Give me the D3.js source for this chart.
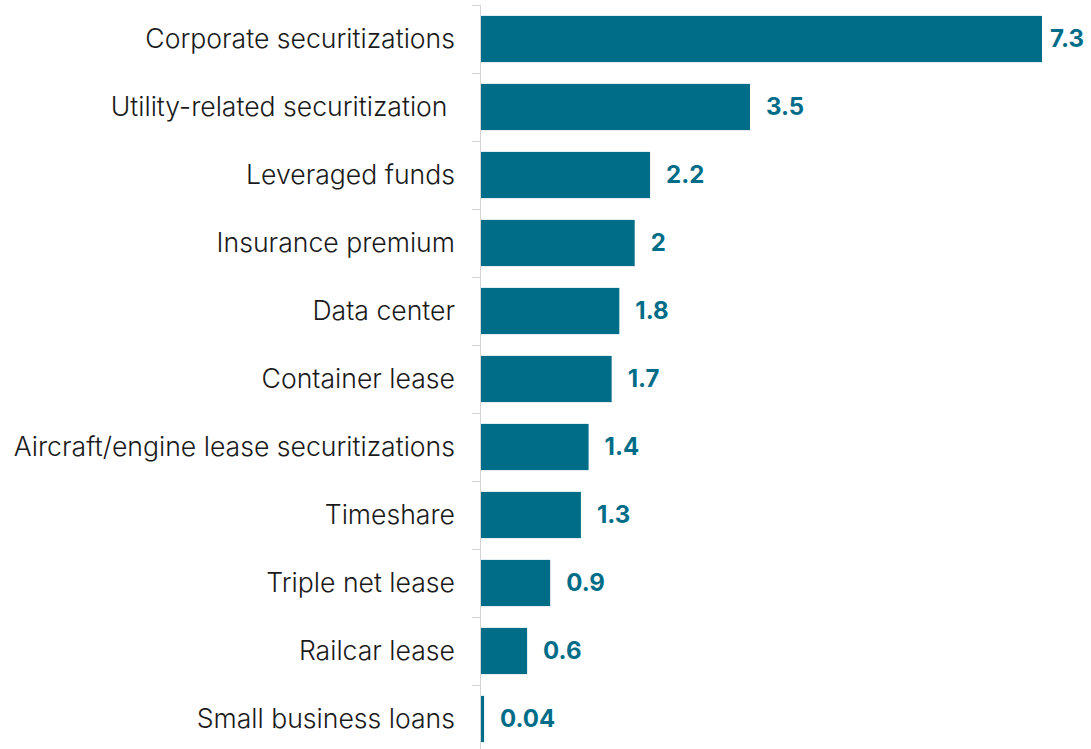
<!DOCTYPE html>
<html>
<head>
<meta charset="utf-8">
<script src="https://cdn.jsdelivr.net/npm/d3@7"></script>
<style>
  html, body { margin: 0; padding: 0; background: #fff; }
  svg { display: block; }
</style>
</head>
<body>
<svg id="chart" width="1091" height="749"></svg>
<script>
// Issuance by asset type
const categories = [
  "Corporate securitizations",
  "Utility-related securitization ",
  "Leveraged funds",
  "Insurance premium",
  "Data center",
  "Container lease",
  "Aircraft/engine lease securitizations",
  "Timeshare",
  "Triple net lease",
  "Railcar lease",
  "Small business loans"
];
const values = [7.3, 3.5, 2.2, 2, 1.8, 1.7, 1.4, 1.3, 0.9, 0.6, 0.04];
const valueLabels = ["7.3", "3.5", "2.2", "2", "1.8", "1.7", "1.4", "1.3", "0.9", "0.6", "0.04"];

const W = 1091, H = 749;
const margin = { top: 5, left: 481, right: 49 };
const barColor = "#006d88";
const labelFont = "Inter, 'Open Sans', sans-serif";

const svg = d3.select("#chart");

const x = d3.scaleLinear()
  .domain([0, 7.3])
  .range([margin.left, W - margin.right]);

const y = d3.scaleBand()
  .domain(categories)
  .range([margin.top, margin.top + 68 * categories.length])
  .paddingInner(0.32)
  .paddingOuter(0.16);

const step = y.step();
const y0 = margin.top;

// axis spine and category separators
const axis = svg.append("g").attr("stroke", "#d4d4d4").attr("stroke-width", 1);
axis.append("line")
  .attr("x1", x(0) - 0.5).attr("x2", x(0) - 0.5)
  .attr("y1", y0).attr("y2", H);
axis.selectAll("line.sep")
  .data(d3.range(categories.length + 1))
  .join("line")
  .attr("class", "sep")
  .attr("x1", x(0) - 9).attr("x2", x(0))
  .attr("y1", i => y0 + i * step + 0.5)
  .attr("y2", i => y0 + i * step + 0.5);

// bars
svg.append("g").selectAll("rect")
  .data(values)
  .join("rect")
  .attr("x", x(0))
  .attr("y", (d, i) => y(categories[i]))
  .attr("width", d => x(d) - x(0))
  .attr("height", y.bandwidth())
  .attr("fill", barColor);

// category labels
svg.append("g").selectAll("text")
  .data(categories)
  .join("text")
  .attr("x", x(0) - 26)
  .attr("y", d => y(d) + y.bandwidth() / 2)
  .attr("dy", "0.35em")
  .attr("text-anchor", "end")
  .attr("font-family", labelFont)
  .attr("font-weight", 300)
  .attr("font-size", 26.6)
  .attr("fill", "#1a1a1a")
  .style("white-space", "pre")
  .text(d => d);

// value labels
const vl = svg.append("g").selectAll("text")
  .data(values)
  .join("text")
  .attr("y", (d, i) => y(categories[i]) + y.bandwidth() / 2)
  .attr("dy", "0.35em")
  .attr("font-family", labelFont)
  .attr("font-weight", 700)
  .attr("font-size", 24)
  .attr("fill", barColor)
  .text((d, i) => valueLabels[i]);

vl.attr("x", function(d) {
  const w = this.getComputedTextLength();
  return Math.min(x(d) + 16, W - 7 - w);
});
</script>
</body>
</html>
